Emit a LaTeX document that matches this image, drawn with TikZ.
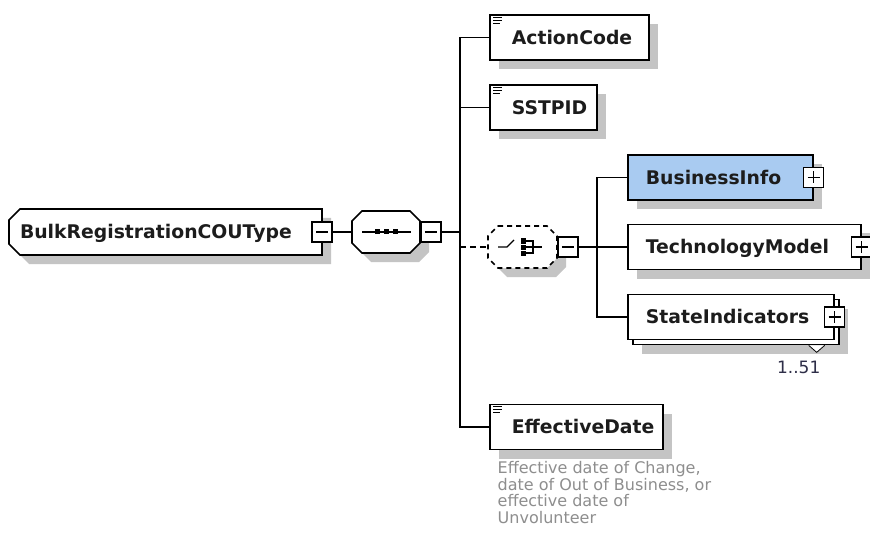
\documentclass[tikz,border=0pt]{standalone}
\usepackage{fontspec}
\setmainfont{DejaVu Sans}
\definecolor{shadowGray}{HTML}{C4C4C4}
\definecolor{fillBlue}{HTML}{A9CBF1}
\definecolor{textDark}{HTML}{1C1C1C}
\definecolor{noteGray}{HTML}{8E8E8E}
\definecolor{occursText}{HTML}{2E2E48}
\usetikzlibrary{calc, positioning, shadows, backgrounds}
\tikzset{
  boxshadow/.style={drop shadow={shadow xshift=9pt, shadow yshift=-9pt, fill=shadowGray, opacity=1}},
  elbox/.style={draw, line width=1.7pt, fill=white, anchor=west, minimum height=45pt,
                inner ysep=0pt, align=left, text=textDark, text height=13.7pt, text depth=0pt,
                font=\fontsize{18.8}{22}\selectfont\bfseries},
  simpleel/.style={elbox, boxshadow, inner xsep=22pt},
  complexel/.style={elbox, boxshadow, inner xsep=18pt},
  stackedel/.style={elbox, inner xsep=18pt},
  signbox/.style={draw, line width=1.5pt, fill=white, minimum size=20pt, inner sep=0pt},
  minusbox/.style={signbox, path picture={
      \draw[line width=1.3pt] ([xshift=4pt]path picture bounding box.west) -- ([xshift=-4pt]path picture bounding box.east);}},
  plusbox/.style={signbox, path picture={
      \draw[line width=1.3pt] ([xshift=4pt]path picture bounding box.west) -- ([xshift=-4pt]path picture bounding box.east);
      \draw[line width=1.3pt] ([yshift=-4pt]path picture bounding box.north) -- ([yshift=4pt]path picture bounding box.south);}},
  compositor/.style={draw=none, fill=none, anchor=west, inner sep=0pt, outer sep=0pt},
  outline/.style={draw, line width=1.7pt, fill=white},
  castshadow/.style={fill=shadowGray, transform canvas={shift={(9pt,-9pt)}}},
  wire/.style={line width=1.6pt},
}
% little "simple content" mark in the top left corner of an element
\newcommand{\elicon}[1]{%
  \foreach \dy/\len in {3/9, 6/9, 9/7}
    \draw[line width=1.2pt] ($(#1.north west)+(4,\dy)$) -- ++(\len,0);}
% outline of a node with all four corners cut
\newcommand{\octpath}[2]{($(#1.north west)+(#2,0)$) -- ($(#1.north east)+(-#2,0)$)
  -- ($(#1.north east)+(0,#2)$) -- ($(#1.south east)+(0,-#2)$) -- ($(#1.south east)+(-#2,0)$)
  -- ($(#1.south west)+(#2,0)$) -- ($(#1.south west)+(0,-#2)$) -- ($(#1.north west)+(0,#2)$) -- cycle}
% outline of a node with its two left corners cut
\newcommand{\leftcutpath}[2]{($(#1.north west)+(#2,0)$) -- (#1.north east) -- (#1.south east)
  -- ($(#1.south west)+(#2,0)$) -- ($(#1.south west)+(0,-#2)$) -- ($(#1.north west)+(0,#2)$) -- cycle}

\begin{document}
\begin{tikzpicture}[x=1pt, y=-1pt]
  \useasboundingbox (0,0) rectangle (870,548);
  \begin{scope}[on background layer]
    \fill[white] (0,0) rectangle (870,548);
  \end{scope}

  % root type
  \node[elbox, draw=none, fill=none, outer sep=0pt, minimum height=46pt, inner xsep=11pt,
        text width=291pt] (root) at (9,232) {BulkRegistrationCOUType};
  \node[minusbox] (rootminus) at (root.east) {};

  % sequence
  \node[compositor, minimum width=68pt, minimum height=42pt] (seq) at (352,232) {};
  \node[minusbox, anchor=west] (seqminus) at (seq.east) {};
  \draw[line width=1.2pt] ($(seq.center)+(-24,0)$) -- ($(seq.center)+(25,0)$);
  \foreach \dx in {-9,0,9}
    \fill ($(seq.center)+(\dx-2.5,-2.5)$) rectangle ++(5,5);

  % optional choice
  \node[compositor, minimum width=69pt, minimum height=42pt] (choice) at (488,247) {};
  \node[minusbox, anchor=west] (choiceminus) at (choice.east) {};
  \begin{scope}[line width=1.2pt]
    \draw ($(choice.center)+(-24.5,0)$) -- ++(9,0) -- ++(7,-7);
    \foreach \dy in {-6,0,6}
      \fill ($(choice.center)+(-1.5,\dy-2.5)$) rectangle ++(5,5);
    \draw ($(choice.center)+(3.5,-6)$) -- ++(7,0) -- ++(0,12) -- ++(-7,0);
    \draw ($(choice.center)+(3.5,0)$) -- ++(16,0);
  \end{scope}

  \begin{scope}[on background layer]
    \fill[castshadow] \leftcutpath{root}{11};
    \path[outline] \leftcutpath{root}{11};
    \fill[castshadow] \octpath{seq}{10};
    \path[outline] \octpath{seq}{10};
    \fill[castshadow] \octpath{choice}{10};
    \path[outline, dash pattern=on 5pt off 4pt] \octpath{choice}{10};
  \end{scope}

  \coordinate (bus1) at (460,232);
  \draw[wire] (rootminus.east) -- (seq.west);
  \draw[wire] (seqminus.east) -- (bus1);

  % sequence children
  \node[simpleel, text width=115pt] (actioncode) at (489,37.5) {ActionCode};
  \node[simpleel, text width=63pt] (sstpid) at (489,107.5) {SSTPID};
  \node[simpleel, text width=129pt] (effectivedate) at (489,427) {EffectiveDate};
  \elicon{actioncode}
  \elicon{sstpid}
  \elicon{effectivedate}

  \node[anchor=north west, inner sep=0pt, align=left, text=noteGray,
        font=\fontsize{16}{16.5}\selectfont] (effectivenote) at ($(effectivedate.south west)+(8.5,11)$)
        {Effective date of Change,\\date of Out of Business, or\\effective date of\\Unvolunteer};

  \draw[wire, dash pattern=on 6pt off 4pt] (bus1 |- choice.west) -- (choice.west);
  \draw[wire] (actioncode.west) -| (bus1) |- (effectivedate.west);
  \draw[wire] (sstpid.west) -- (sstpid.west -| bus1);

  % choice children
  \node[complexel, fill=fillBlue, text width=149pt] (businessinfo) at (627,177.5) {BusinessInfo};
  \node[plusbox] (businessplus) at (businessinfo.east) {};
  \node[complexel, text width=197pt] (technologymodel) at (627,247) {TechnologyModel};
  \node[plusbox] (technologyplus) at (technologymodel.east) {};
  \node[elbox, boxshadow, minimum width=206pt] (stateback) at (632,322) {};
  \node[stackedel, text width=170pt] (stateindicators) at (627,317) {StateIndicators};
  \node[plusbox] (stateplus) at (stateindicators.east) {};
  \draw[line width=0.8pt, fill=white] ($(stateback.south east)+(-31,0)$) -- ++(8,7) -- ++(8,-7);
  \node[inner sep=0pt, text=occursText, font=\fontsize{17}{20}\selectfont] (stateoccurs)
        at ($(stateback.south east)+(-41,22)$) {1..51};

  \coordinate (bus2) at (597,247);
  \draw[wire] (choiceminus.east) -- (bus2);
  \draw[wire] (businessinfo.west) -| (bus2) |- (stateindicators.west);
  \draw[wire] (bus2) -- (technologymodel.west);
\end{tikzpicture}
\end{document}
